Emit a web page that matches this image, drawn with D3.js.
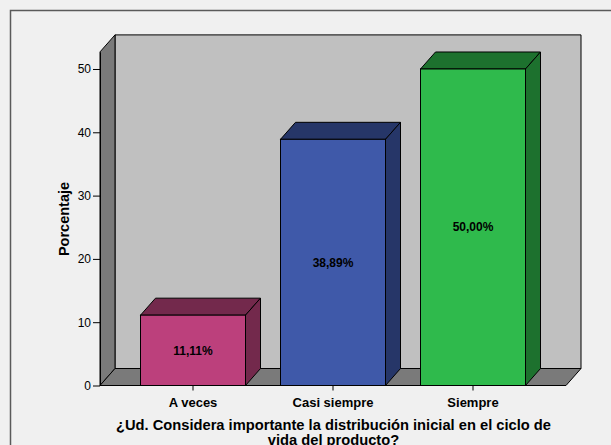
<!DOCTYPE html>
<html>
<head>
<meta charset="utf-8">
<script src="https://cdn.jsdelivr.net/npm/d3@7"></script>
<style>
  html, body { margin: 0; padding: 0; background: #f0f0f0; }
  svg { display: block; font-family: Arial, "Liberation Sans", sans-serif; }
</style>
</head>
<body>
<svg id="chart" width="611" height="445"></svg>
<script>
// Chart data
const categories = ["A veces", "Casi siempre", "Siempre"];
const percentages = [11.11, 38.89, 50.00];
const valueLabels = ["11,11%", "38,89%", "50,00%"];
const yTicks = [0, 10, 20, 30, 40, 50];
const yMax = 52.7;
const frontColors = ["#bc407c", "#3f59a9", "#2fba4c"];
const sideColors = ["#73294c", "#263668", "#1d712e"];
const yTitle = "Porcentaje";
const xTitleLines = ["¿Ud. Considera importante la distribución inicial en el ciclo de", "vida del producto?"];

const svg = d3.select("#chart");

// Outer frame
svg.append("rect")
  .attr("x", 10.5).attr("y", 10.5)
  .attr("width", 640).attr("height", 480)
  .attr("fill", "#f0f0f0")
  .attr("stroke", "#5a5a5a").attr("stroke-width", 1.5);

// Plot geometry (front plane) and 3D depth offset
const x0 = 100, x1 = 566;
const yBase = 385.5, yTopPx = 51.9;
const dx = 15, dy = 17;

const y = d3.scaleLinear().domain([0, yMax]).range([yBase, yTopPx]);
const x = d3.scaleBand().domain(categories).range([x0 + 23, x1 - 23]).paddingInner(0.25).paddingOuter(0.125);

function poly(pts, fill) {
  return svg.append("polygon")
    .attr("points", pts.map(d => d.join(",")).join(" "))
    .attr("fill", fill)
    .attr("stroke", "#000").attr("stroke-width", 1)
    .attr("stroke-linejoin", "miter");
}

const yT = y(yMax), y0 = y(0);
// Back wall
poly([[x0 + dx, yT - dy], [x1 + dx, yT - dy], [x1 + dx, y0 - dy], [x0 + dx, y0 - dy]], "#c0c0c0");
// Left wall
poly([[x0, yT], [x0 + dx, yT - dy], [x0 + dx, y0 - dy], [x0, y0]], "#7a7a7a");
// Floor
poly([[x0, y0], [x0 + dx, y0 - dy], [x1 + dx, y0 - dy], [x1, y0]], "#7a7a7a");

// Bars
const data = categories.map((c, i) => ({ c, v: percentages[i], label: valueLabels[i], front: frontColors[i], side: sideColors[i] }));
const bars = svg.append("g").selectAll("g").data(data).join("g");
bars.each(function (d) {
  const g = d3.select(this);
  const bx = x(d.c), bw = x.bandwidth(), by = y(d.v);
  const pts = arr => arr.map(p => p.join(",")).join(" ");
  // top face
  g.append("polygon")
    .attr("points", pts([[bx, by], [bx + dx, by - dy], [bx + bw + dx, by - dy], [bx + bw, by]]))
    .attr("fill", d.side).attr("stroke", "#000").attr("stroke-width", 1);
  // side face
  g.append("polygon")
    .attr("points", pts([[bx + bw, by], [bx + bw + dx, by - dy], [bx + bw + dx, y0 - dy], [bx + bw, y0]]))
    .attr("fill", d.side).attr("stroke", "#000").attr("stroke-width", 1);
  // front face
  g.append("rect")
    .attr("x", bx).attr("y", by).attr("width", bw).attr("height", y0 - by)
    .attr("fill", d.front).attr("stroke", "#000").attr("stroke-width", 1);
  // value label
  g.append("text")
    .attr("x", bx + bw / 2).attr("y", (by + y0) / 2)
    .attr("dy", "0.35em")
    .attr("text-anchor", "middle")
    .attr("font-size", 12).attr("font-weight", "bold")
    .attr("fill", "#000")
    .text(d.label);
});

// Y axis
const yAxis = svg.append("g")
  .attr("transform", `translate(${x0},0)`)
  .call(d3.axisLeft(y).tickValues(yTicks).tickSize(7).tickPadding(2).tickSizeOuter(0));
yAxis.select(".domain").attr("stroke", "#000");
yAxis.selectAll(".tick line").attr("stroke", "#000");
yAxis.selectAll(".tick text").attr("font-size", 12).attr("fill", "#000")
  .attr("font-family", "Arial, 'Liberation Sans', sans-serif");

// X axis
const xAxis = svg.append("g")
  .attr("transform", `translate(0,${y0})`)
  .call(d3.axisBottom(x).tickSize(5).tickPadding(7).tickSizeOuter(0));
xAxis.select(".domain").remove();
xAxis.selectAll(".tick line").attr("stroke", "#000");
xAxis.selectAll(".tick text").attr("font-size", 13).attr("font-weight", "bold").attr("fill", "#000")
  .attr("font-family", "Arial, 'Liberation Sans', sans-serif");

// Axis titles
svg.append("text")
  .attr("transform", "translate(69,219) rotate(-90)")
  .attr("text-anchor", "middle")
  .attr("font-size", 14.5).attr("font-weight", "bold")
  .text(yTitle);

svg.append("g").selectAll("text").data(xTitleLines).join("text")
  .attr("x", 333.5)
  .attr("y", (d, i) => 429.5 + i * 15)
  .attr("text-anchor", "middle")
  .attr("font-size", 14.7).attr("font-weight", "bold")
  .text(d => d);
</script>
</body>
</html>
